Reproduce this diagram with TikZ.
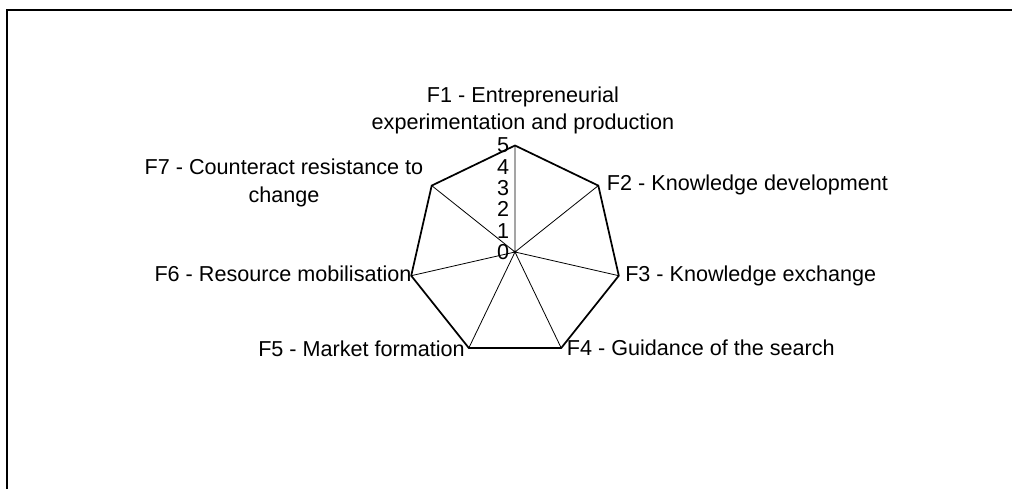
\documentclass[tikz,border=0pt]{standalone}
\usepackage{fontspec}
\setmainfont{Liberation Sans}
\usepackage{tikz}

\newcommand{\radarfont}{\fontsize{16.2}{20.6}\selectfont}

\begin{document}
\begin{tikzpicture}[x=0.75pt,y=0.75pt,yscale=-1,xscale=1,
  lbl/.style={inner sep=0pt, font=\radarfont},
  spoke/.style={line width=0.6pt},
  rim/.style={line width=1.3pt, line join=miter}]
\useasboundingbox (0,0) rectangle (1012,489);

%Frame [id:frame]
\draw [line width=1.5pt]   (7,489) -- (7,10) -- (1012,10) ;

%Centre and vertices
\coordinate (c) at (515,252);
\coordinate (v1) at (515,145.5);
\coordinate (v2) at (598.3,185.6);
\coordinate (v3) at (618.8,275.7);
\coordinate (v4) at (561.2,348);
\coordinate (v5) at (468.8,348);
\coordinate (v6) at (411.2,275.7);
\coordinate (v7) at (431.7,185.6);

%Spokes
\draw [spoke]   (c) -- (v1) (c) -- (v2) (c) -- (v3) (c) -- (v4) (c) -- (v5) (c) -- (v6) (c) -- (v7) ;
%Outer polygon
\draw [rim]   (v1) -- (v2) -- (v3) -- (v4) -- (v5) -- (v6) -- (v7) -- cycle ;

% Axis Nodes
\draw (509.5,252) node [anchor=east][lbl] (a0) {0};
\draw (509.5,230.7) node [anchor=east][lbl] (a1) {1};
\draw (509.5,209.4) node [anchor=east][lbl] (a2) {2};
\draw (509.5,188.1) node [anchor=east][lbl] (a3) {3};
\draw (509.5,166.8) node [anchor=east][lbl] (a4) {4};
\draw (509.5,145.5) node [anchor=east][lbl] (a5) {5};

% Text Node
\draw (523,134.4) node [anchor=south][lbl] [align=center] (f1) {F1 - Entrepreneurial\\experimentation and production};
% Text Node
\draw (606.7,190) node [anchor=base west][lbl] (f2) {F2 - Knowledge development};
% Text Node
\draw (625,281.7) node [anchor=base west][lbl] (f3) {F3 - Knowledge exchange};
% Text Node
\draw (566.7,355) node [anchor=base west][lbl] (f4) {F4 - Guidance of the search};
% Text Node
\draw (465,356) node [anchor=base east][lbl] (f5) {F5 - Market formation};
% Text Node
\draw (411.7,281) node [anchor=base east][lbl] (f6) {F6 - Resource mobilisation};
% Text Node
\draw (284,207) node [anchor=south][lbl] [align=center] (f7) {F7 - Counteract resistance to\\change};

\end{tikzpicture}
\end{document}
